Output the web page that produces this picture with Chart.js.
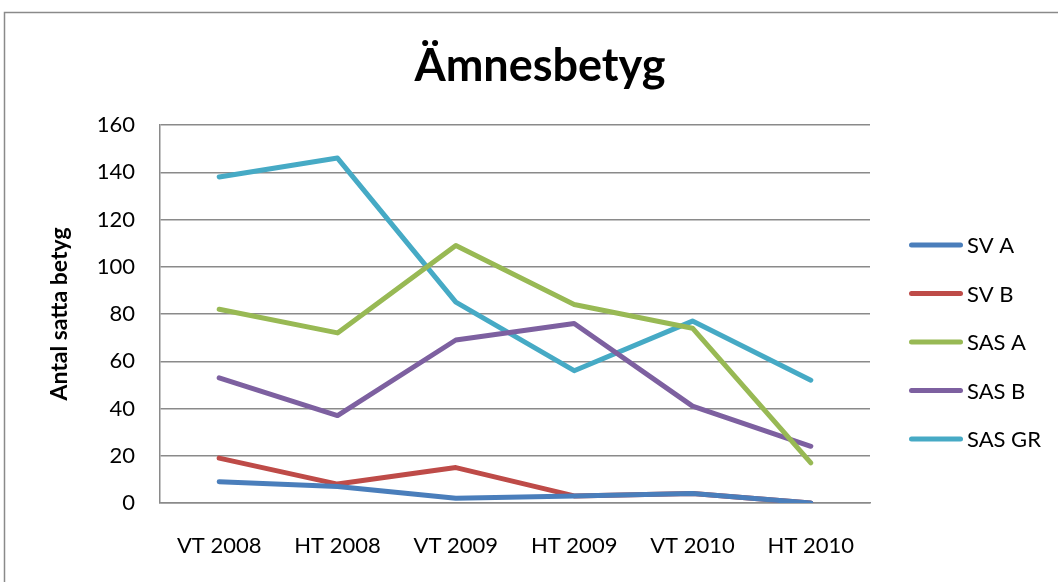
<!DOCTYPE html>
<html>
<head>
<meta charset="utf-8">
<script src="https://cdn.jsdelivr.net/npm/chart.js@4"></script>
<style>
  html, body { margin: 0; padding: 0; background: #fff; }
  #wrap { width: 1058px; height: 582px; }
</style>
</head>
<body>
<div id="wrap"><canvas id="c" width="1058" height="582"></canvas></div>
<script>
// terms and counts
const terms = ["VT 2008", "HT 2008", "VT 2009", "HT 2009", "VT 2010", "HT 2010"];
const svA = [9, 7, 2, 3, 4, 0];
const svB = [19, 8, 15, 3, 4, 0];
const sasA = [82, 72, 109, 84, 74, 17];
const sasB = [53, 37, 69, 76, 41, 24];
const sasGR = [138, 146, 85, 56, 77, 52];
const seriesNames = ["SV A", "SV B", "SAS A", "SAS B", "SAS GR"];
const seriesColors = ["#4a7ebb", "#be4b48", "#98b954", "#7d60a0", "#46aac5"];

const FONT = "Lato, 'Liberation Sans', sans-serif";

const frame = {
    id: "frame",
    beforeDraw(chart) {
        const ctx = chart.ctx;
        ctx.save();
        ctx.fillStyle = "#fff";
        ctx.fillRect(0, 0, chart.width, chart.height);
        ctx.strokeStyle = "#8a8a8a";
        ctx.lineWidth = 1.5;
        ctx.strokeRect(4.5, 12.5, chart.width + 20, chart.height + 20);
        ctx.restore();
    },
};

// legend drawn beside the plot, one short thick line per series
const sideLegend = {
    id: "sideLegend",
    afterDraw(chart) {
        const ctx = chart.ctx;
        const ca = chart.chartArea;
        ctx.save();
        ctx.font = "22px " + FONT;
        ctx.textBaseline = "middle";
        ctx.lineCap = "round";
        chart.data.datasets.forEach((ds, i) => {
            const y = ca.top + 120 + i * 48.5;
            ctx.strokeStyle = ds.borderColor;
            ctx.lineWidth = 5;
            ctx.beginPath();
            ctx.moveTo(ca.right + 41.5, y);
            ctx.lineTo(ca.right + 90.5, y);
            ctx.stroke();
            ctx.fillStyle = "#000";
            ctx.fillText(ds.label, ca.right + 97, y + 1);
        });
        ctx.restore();
    },
};

const allData = [svA, svB, sasA, sasB, sasGR];

new Chart(document.getElementById("c"), {
    type: "line",
    data: {
        labels: terms,
        datasets: allData.map((d, i) => ({
            label: seriesNames[i],
            data: d,
            borderColor: seriesColors[i],
            backgroundColor: seriesColors[i],
            borderWidth: 5,
            borderCapStyle: "round",
            borderJoinStyle: "round",
            pointRadius: 0,
            tension: 0,
        })),
    },
    options: {
        responsive: false,
        animation: false,
        layout: { padding: { left: 22, right: 0, top: 0, bottom: 0 } },
        plugins: {
            legend: { display: false },
            tooltip: { enabled: false },
            title: {
                display: true,
                text: "Ämnesbetyg",
                color: "#000",
                font: { family: FONT, size: 45, weight: "bold" },
                padding: { top: 39, bottom: 32 },
            },
        },
        scales: {
            x: {
                offset: true,
                grid: { display: false, drawTicks: false },
                border: { display: true, color: "#8a8a8a", width: 1.5 },
                ticks: { color: "#000", padding: 30, font: { family: FONT, size: 22 } },
                afterFit: (s) => { s.height = 79; },
            },
            y: {
                min: 0,
                max: 160,
                ticks: { stepSize: 20, color: "#000", padding: 25, font: { family: FONT, size: 22 } },
                grid: { color: "#8a8a8a", lineWidth: 1.5, drawTicks: false },
                border: { display: true, color: "#8a8a8a", width: 1.5 },
                title: {
                    display: true,
                    text: "Antal satta betyg",
                    color: "#000",
                    font: { family: FONT, size: 23, weight: "bold" },
                    padding: { top: 24, bottom: 0 },
                },
                afterFit: (s) => { s.width = 138; },
            },
            // empty right axis that only reserves room for the legend
            legendSpace: {
                type: "linear",
                position: "right",
                grid: { display: false, drawTicks: false },
                border: { display: false },
                ticks: { display: false },
                afterFit: (s) => { s.width = 188; },
            },
        },
    },
    plugins: [frame, sideLegend],
});
</script>
</body>
</html>
